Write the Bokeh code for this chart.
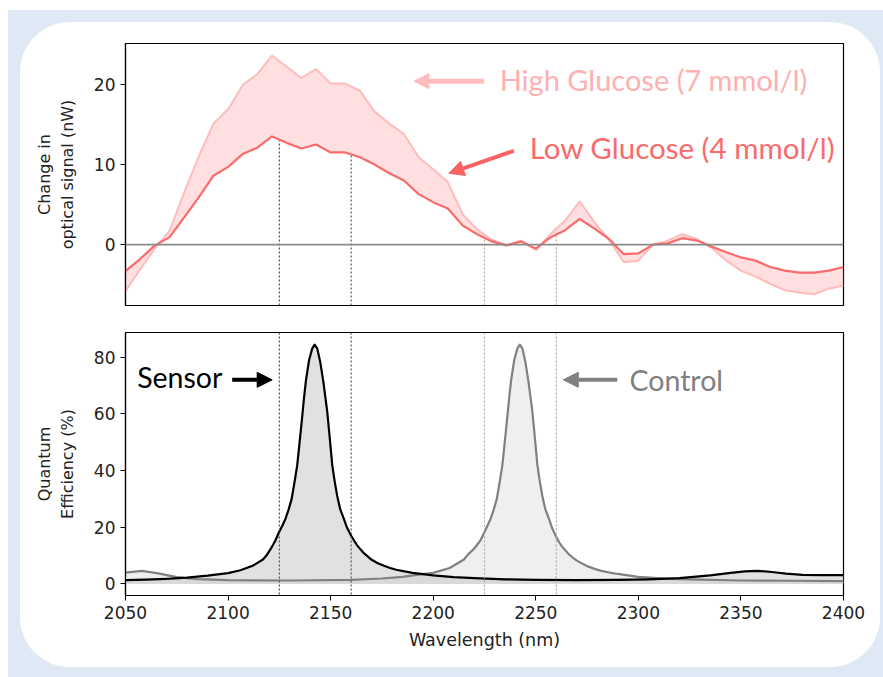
import numpy as np
from bokeh.plotting import figure
from bokeh.layouts import column
from bokeh.models import Arrow, NormalHead, FixedTicker, Range1d, Label, Span
from bokeh.embed import file_html
from bokeh.resources import INLINE

# ---------------- data ----------------
wavelength = [2050.0, 2057.1, 2064.3, 2071.4, 2078.6, 2085.7, 2092.9, 2100.0, 2107.1, 2114.3,
              2121.4, 2128.6, 2135.7, 2142.9, 2150.0, 2157.1, 2164.3, 2171.4, 2178.6, 2185.7,
              2192.9, 2200.0, 2207.1, 2214.3, 2221.4, 2228.6, 2235.7, 2242.9, 2250.0, 2257.1,
              2264.3, 2271.4, 2278.6, 2285.7, 2292.9, 2300.0, 2307.1, 2314.3, 2321.4, 2328.6,
              2335.7, 2342.9, 2350.0, 2357.1, 2364.3, 2371.4, 2378.6, 2385.7, 2392.9, 2400.0]
low_glucose = [-3.3, -1.8, -0.1, 0.9, 3.4, 5.9, 8.6, 9.7, 11.3, 12.1,
               13.5, 12.7, 12.0, 12.5, 11.5, 11.5, 10.9, 10.0, 8.9, 8.0,
               6.3, 5.3, 4.5, 2.4, 1.3, 0.4, -0.1, 0.4, -0.5, 0.9,
               1.8, 3.2, 2.0, 0.7, -1.2, -1.1, 0.0, 0.15, 0.8, 0.5,
               -0.25, -0.95, -1.6, -2.0, -2.8, -3.25, -3.5, -3.5, -3.25, -2.8]
high_glucose = [-5.8, -3.1, -0.5, 1.7, 6.5, 11.0, 15.1, 16.9, 19.9, 21.3,
                23.6, 22.2, 20.8, 21.9, 20.1, 20.1, 19.2, 16.6, 15.1, 13.8,
                10.9, 9.4, 7.8, 3.8, 1.9, 0.6, -0.1, 0.5, -0.7, 1.3,
                3.0, 5.4, 2.8, 0.6, -2.2, -2.0, 0.0, 0.5, 1.3, 0.7,
                -0.4, -2.0, -3.25, -4.0, -4.9, -5.7, -6.0, -6.2, -5.5, -5.1]

sensor_wl = [2050, 2060, 2070, 2080, 2090, 2100, 2106, 2112, 2117, 2119, 2121, 2123, 2125,
             2126.5, 2128, 2129.5, 2131, 2132.3, 2133.7, 2134.8, 2136, 2137, 2138, 2139.5,
             2141, 2142.2, 2143.5, 2145, 2146.5, 2147.4, 2148.3, 2149.5, 2150.8, 2152, 2153.2,
             2154.6, 2156.4, 2158, 2160, 2161.5, 2163, 2166, 2168, 2170, 2173, 2176, 2179,
             2182, 2186, 2190, 2200, 2210, 2220, 2235, 2250, 2270, 2290, 2305, 2320, 2335,
             2345, 2352, 2358, 2365, 2372, 2380, 2390, 2400]
sensor_qe = [1.3, 1.5, 1.8, 2.2, 2.9, 3.8, 4.8, 6.4, 8.6, 10.3, 12.6, 15.2, 18.5,
             20.6, 23.0, 26.2, 30.0, 35.5, 41.8, 49.5, 58.0, 65.5, 72.0, 79.0,
             83.0, 84.4, 83.0, 78.0, 71.0, 66.0, 61.0, 52.0, 41.8, 36.0, 31.0,
             26.5, 23.0, 19.8, 17.0, 15.2, 13.5, 11.0, 9.7, 8.5, 7.3, 6.4, 5.6,
             5.0, 4.4, 3.9, 3.0, 2.4, 2.0, 1.6, 1.4, 1.3, 1.4, 1.6, 2.0, 3.0,
             3.9, 4.4, 4.6, 4.2, 3.6, 3.2, 3.1, 3.1]

control_wl = [2050, 2058, 2066, 2075, 2085, 2100, 2130, 2160, 2175, 2185, 2192, 2200, 2208,
              2215, 2217, 2220, 2223, 2225, 2226.5, 2228, 2229.5, 2231, 2232.3, 2233.7, 2234.8,
              2236, 2237, 2238, 2239.5, 2241, 2242.2, 2243.5, 2245, 2246.5, 2247.4, 2248.3,
              2249.5, 2250.8, 2252, 2253.2, 2254.6, 2256.4, 2258, 2260, 2261.5, 2263, 2266,
              2268, 2270, 2273, 2276, 2279, 2282, 2286, 2290, 2300, 2315, 2330, 2350, 2375, 2400]
control_qe = [4.0, 4.6, 3.7, 2.4, 1.7, 1.3, 1.2, 1.4, 1.9, 2.5, 3.2, 3.9, 5.6,
              8.6, 10.4, 12.5, 15.3, 18.3, 20.6, 23.0, 26.2, 30.0, 35.5, 41.8, 49.5,
              58.0, 65.5, 72.0, 79.0, 83.0, 84.4, 83.0, 78.0, 71.0, 66.0, 61.0,
              52.0, 41.8, 36.0, 31.0, 26.5, 23.0, 19.6, 16.5, 14.6, 13.0, 10.5,
              9.3, 8.2, 7.0, 6.0, 5.2, 4.6, 4.0, 3.5, 2.5, 1.8, 1.5, 1.2, 1.1, 1.0]

sensor_marks = [2125, 2160]
control_marks = [2225, 2260]
x_ticks = [2050, 2100, 2150, 2200, 2250, 2300, 2350, 2400]
top_ticks = [0, 10, 20]
bottom_ticks = [0, 20, 40, 60, 80]

# ---------------- styling helpers ----------------
TICK_FONT = "DejaVu Sans"
ANN_FONT = "Lato"


def style_axes(p):
    p.grid.visible = False
    p.outline_line_color = "black"
    p.outline_line_width = 1.2
    for ax in p.axis:
        ax.axis_line_color = "black"
        ax.axis_line_width = 1.2
        ax.major_tick_line_color = "black"
        ax.major_tick_out = 5
        ax.major_tick_in = 0
        ax.minor_tick_line_color = None
        ax.major_label_text_font = TICK_FONT
        ax.major_label_text_font_size = "17px"
        ax.major_label_text_color = "#222222"
        ax.axis_label_text_font = TICK_FONT
        ax.axis_label_text_font_style = "normal"
        ax.axis_label_text_color = "#222222"


# ---------------- top panel ----------------
p1 = figure(frame_width=718, frame_height=262,
            x_range=Range1d(2050, 2400), y_range=Range1d(-7.6, 25.1),
            output_backend="svg", toolbar_location=None,
            min_border_left=105, min_border_right=37, min_border_top=21, min_border_bottom=13,
            border_fill_color=None, background_fill_color="white")
style_axes(p1)
p1.xaxis.visible = False
p1.yaxis.ticker = FixedTicker(ticks=top_ticks)
p1.yaxis.axis_label = "Change in\noptical signal (nW)"
p1.yaxis.axis_label_text_font_size = "16px"
p1.yaxis.axis_label_standoff = 14

p1.add_layout(Span(location=0, dimension="width", line_color="#8a8a8a", line_width=1.6))
p1.varea(x=wavelength, y1=low_glucose, y2=high_glucose, fill_color="#ffb0b0", fill_alpha=0.4)

y_bottom = p1.y_range.start
p1.segment(x0=sensor_marks, y0=[y_bottom] * len(sensor_marks), x1=sensor_marks,
           y1=list(np.interp(sensor_marks, wavelength, low_glucose)),
           line_color="#555555", line_width=1.2, line_dash="2 2")
p1.segment(x0=control_marks, y0=[y_bottom] * len(control_marks), x1=control_marks,
           y1=list(np.interp(control_marks, wavelength, low_glucose)),
           line_color="#aaaaaa", line_width=1.2, line_dash="2 2")

p1.line(wavelength, high_glucose, line_color="#ffbcbc", line_width=2)
p1.line(wavelength, low_glucose, line_color="#fa6b6b", line_width=2.2)

p1.add_layout(Arrow(end=NormalHead(size=15, fill_color="#ffbcbc", line_color="#ffbcbc"),
                    x_start=2224.7, y_start=20.4, x_end=2190.6, y_end=20.4,
                    line_color="#ffbcbc", line_width=5))
p1.add_layout(Arrow(end=NormalHead(size=15, fill_color="#f96363", line_color="#f96363"),
                    x_start=2239.3, y_start=11.7, x_end=2207.6, y_end=8.9,
                    line_color="#f96363", line_width=4))
p1.add_layout(Label(x=2232.4, y=20.6, text="High Glucose (7 mmol/l)", text_font=ANN_FONT,
                    text_font_size="29px", text_color="#ffb0b0", text_baseline="middle"))
p1.add_layout(Label(x=2247.0, y=12.1, text="Low Glucose (4 mmol/l)", text_font=ANN_FONT,
                    text_font_size="29.5px", text_color="#f96b6b", text_baseline="middle"))

# ---------------- bottom panel ----------------
p2 = figure(frame_width=718, frame_height=263,
            x_range=p1.x_range, y_range=Range1d(-4.1, 88.7),
            output_backend="svg", toolbar_location=None,
            min_border_left=105, min_border_right=37, min_border_top=14, min_border_bottom=72,
            border_fill_color=None, background_fill_color="white")
style_axes(p2)
p2.xaxis.ticker = FixedTicker(ticks=x_ticks)
p2.yaxis.ticker = FixedTicker(ticks=bottom_ticks)
p2.xaxis.axis_label = "Wavelength (nm)"
p2.xaxis.axis_label_text_font_size = "17.5px"
p2.xaxis.axis_label_standoff = 8
p2.yaxis.axis_label = "Quantum\nEfficiency (%)"
p2.yaxis.axis_label_text_font_size = "16px"
p2.yaxis.axis_label_standoff = 14

p2.varea(x=control_wl, y1=[0] * len(control_wl), y2=control_qe, fill_color="#dcdcdc", fill_alpha=0.45)
p2.varea(x=sensor_wl, y1=[0] * len(sensor_wl), y2=sensor_qe, fill_color="#c4c4c4", fill_alpha=0.5)

for xm in sensor_marks:
    p2.add_layout(Span(location=xm, dimension="height", line_color="#555555",
                       line_width=1.2, line_dash="2 2"))
for xm in control_marks:
    p2.add_layout(Span(location=xm, dimension="height", line_color="#aaaaaa",
                       line_width=1.2, line_dash="2 2"))

p2.line(control_wl, control_qe, line_color="#808080", line_width=2.2, line_join="round")
p2.line(sensor_wl, sensor_qe, line_color="black", line_width=2.2, line_join="round")

p2.add_layout(Arrow(end=NormalHead(size=15, fill_color="black", line_color="black"),
                    x_start=2102.0, y_start=72.0, x_end=2121.5, y_end=72.0,
                    line_color="black", line_width=4))
p2.add_layout(Arrow(end=NormalHead(size=15, fill_color="#808080", line_color="#808080"),
                    x_start=2289.7, y_start=72.0, x_end=2263.4, y_end=72.0,
                    line_color="#808080", line_width=4))
p2.add_layout(Label(x=2055.7, y=72.9, text="Sensor", text_font=ANN_FONT,
                    text_font_size="28.5px", text_color="black", text_baseline="middle"))
p2.add_layout(Label(x=2295.7, y=72.0, text="Control", text_font=ANN_FONT,
                    text_font_size="28.5px", text_color="#808080", text_baseline="middle"))

# ---------------- layout with rounded card ----------------
inner = column(p1, p2, spacing=0,
               styles={"background-color": "white", "border-radius": "50px"},
               margin=(12, 3, 10, 12))
outer = column(inner, styles={"background-color": "#dfe9f5"}, margin=(10, 0, 0, 8))

open("out.html", "w").write(file_html(outer, INLINE))
